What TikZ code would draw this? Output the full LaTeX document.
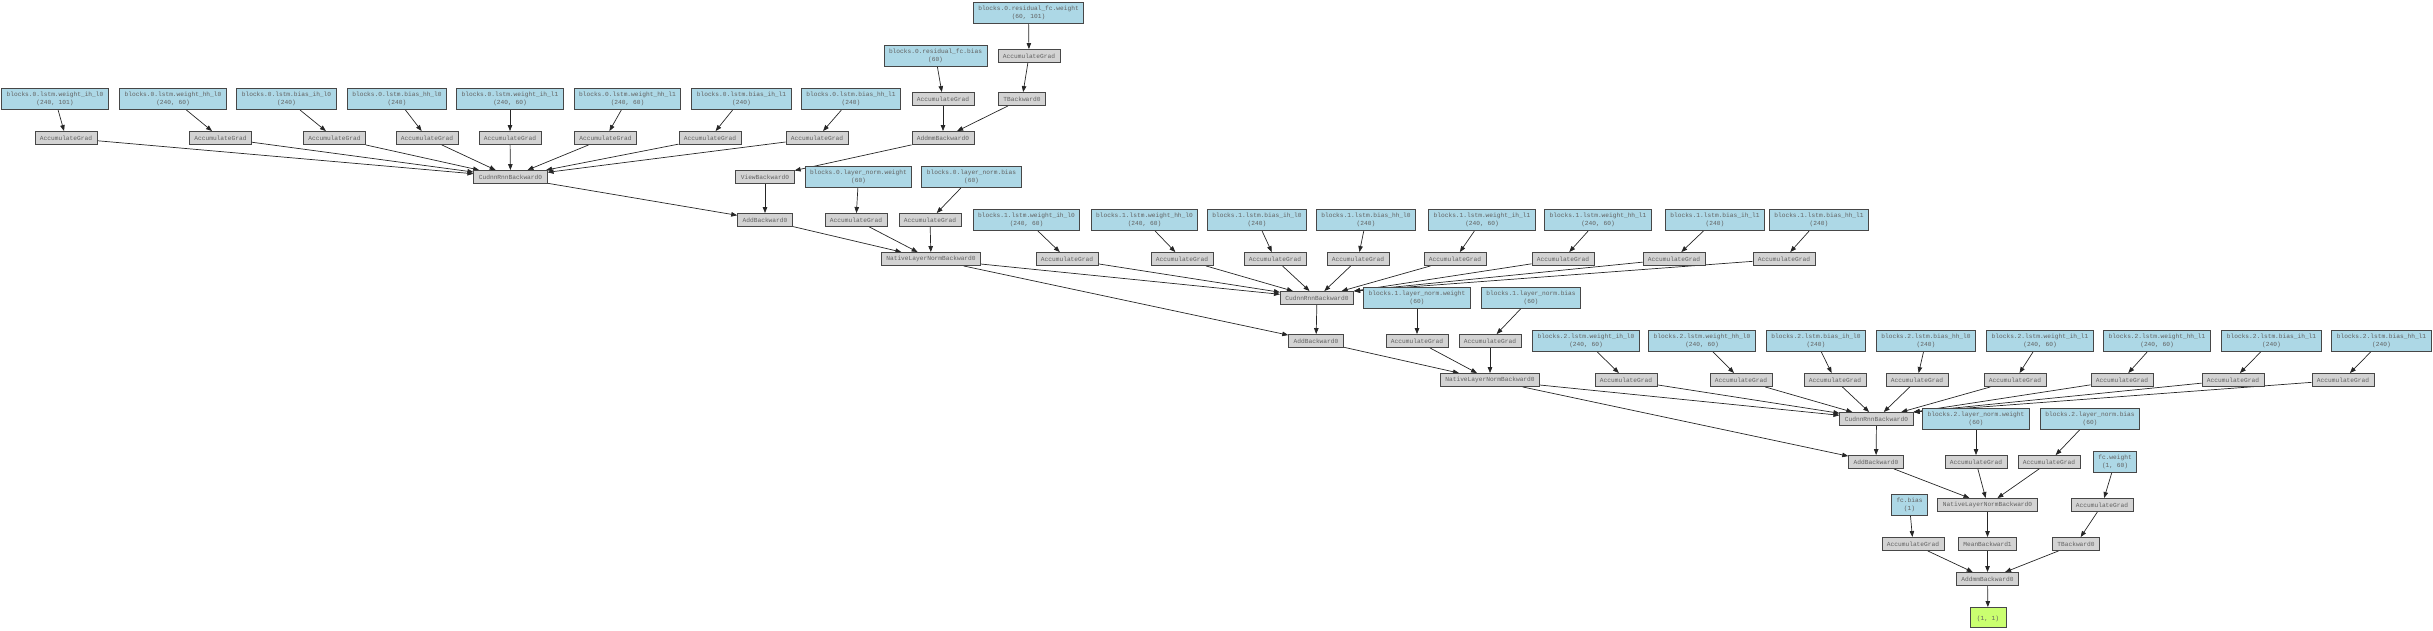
\documentclass[tikz,border=0pt]{standalone}
\usepackage{fontspec}
\newfontfamily\gvmono{Liberation Mono}
\usetikzlibrary{arrows.meta}
\pgfdeclarelayer{background}
\pgfsetlayers{background,main}
\definecolor{gvblue}{HTML}{ADD8E6}
\definecolor{gvgray}{HTML}{D3D3D3}
\definecolor{gvgreen}{HTML}{CAFF70}
\tikzset{
 gvnode/.style={draw=black!72, line width=0.9pt, font=\gvmono\fontsize{6.2}{7.6}\selectfont, text=black!62, inner xsep=5pt, inner ysep=0pt, align=center},
 gbox/.style={gvnode, fill=gvgray, minimum height=13pt},
 bbox/.style={gvnode, fill=gvblue, minimum height=21pt},
 obox/.style={gvnode, fill=gvgreen, minimum height=20pt, minimum width=36pt},
 conn/.style={draw=black!85, line width=0.7pt, -{Triangle[length=6pt,width=4.5pt]}}
}
\begin{document}
\begin{tikzpicture}[x=1pt,y=-1pt]
\useasboundingbox (0,0) rectangle (2433,630);
% ---------------- block 0 ----------------
\node[bbox] (r0w) at (1028.5,13) {blocks.0.residual\_fc.weight\\(60, 101)};
\node[gbox] (r0wa) at (1029,56) {AccumulateGrad};
\node[bbox] (r0b) at (935.5,56) {blocks.0.residual\_fc.bias\\(60)};
\node[gbox] (r0ba) at (943,99) {AccumulateGrad};
\node[gbox] (r0t) at (1022,99) {TBackward0};
\node[gbox] (r0mm) at (943,138) {AddmmBackward0};
\node[gbox] (v0) at (765,177) {ViewBackward0};

\node[bbox] (p0_1) at (55,99) {blocks.0.lstm.weight\_ih\_l0\\(240, 101)};
\node[bbox] (p0_2) at (173,99) {blocks.0.lstm.weight\_hh\_l0\\(240, 60)};
\node[bbox] (p0_3) at (286.5,99) {blocks.0.lstm.bias\_ih\_l0\\(240)};
\node[bbox] (p0_4) at (397,99) {blocks.0.lstm.bias\_hh\_l0\\(240)};
\node[bbox] (p0_5) at (510,99) {blocks.0.lstm.weight\_ih\_l1\\(240, 60)};
\node[bbox] (p0_6) at (627.5,99) {blocks.0.lstm.weight\_hh\_l1\\(240, 60)};
\node[bbox] (p0_7) at (741.5,99) {blocks.0.lstm.bias\_ih\_l1\\(240)};
\node[bbox] (p0_8) at (851,99) {blocks.0.lstm.bias\_hh\_l1\\(240)};

\node[gbox] (a0_1) at (66,138) {AccumulateGrad};
\node[gbox] (a0_2) at (220.5,138) {AccumulateGrad};
\node[gbox] (a0_3) at (334.5,138) {AccumulateGrad};
\node[gbox] (a0_4) at (427,138) {AccumulateGrad};
\node[gbox] (a0_5) at (510,138) {AccumulateGrad};
\node[gbox] (a0_6) at (605.5,138) {AccumulateGrad};
\node[gbox] (a0_7) at (710,138) {AccumulateGrad};
\node[gbox] (a0_8) at (817,138) {AccumulateGrad};

\node[gbox] (c0) at (510.5,177) {CudnnRnnBackward0};
\node[gbox] (ad0) at (765,220) {AddBackward0};
\node[bbox] (n0w) at (858.5,177) {blocks.0.layer\_norm.weight\\(60)};
\node[bbox] (n0b) at (971.5,177) {blocks.0.layer\_norm.bias\\(60)};
\node[gbox] (n0wa) at (856,220) {AccumulateGrad};
\node[gbox] (n0ba) at (930,220) {AccumulateGrad};
\node[gbox] (ln0) at (931,259) {NativeLayerNormBackward0};

% ---------------- block 1 ----------------
\node[bbox] (p1_1) at (1026.5,220) {blocks.1.lstm.weight\_ih\_l0\\(240, 60)};
\node[bbox] (p1_2) at (1144.5,220) {blocks.1.lstm.weight\_hh\_l0\\(240, 60)};
\node[bbox] (p1_3) at (1257,220) {blocks.1.lstm.bias\_ih\_l0\\(240)};
\node[bbox] (p1_4) at (1366,220) {blocks.1.lstm.bias\_hh\_l0\\(240)};
\node[bbox] (p1_5) at (1482,220) {blocks.1.lstm.weight\_ih\_l1\\(240, 60)};
\node[bbox] (p1_6) at (1598,220) {blocks.1.lstm.weight\_hh\_l1\\(240, 60)};
\node[bbox] (p1_7) at (1715,220) {blocks.1.lstm.bias\_ih\_l1\\(240)};
\node[bbox] (p1_8) at (1819,220) {blocks.1.lstm.bias\_hh\_l1\\(240)};

\node[gbox] (a1_1) at (1067,259) {AccumulateGrad};
\node[gbox] (a1_2) at (1182,259) {AccumulateGrad};
\node[gbox] (a1_3) at (1275,259) {AccumulateGrad};
\node[gbox] (a1_4) at (1358,259) {AccumulateGrad};
\node[gbox] (a1_5) at (1455,259) {AccumulateGrad};
\node[gbox] (a1_6) at (1563,259) {AccumulateGrad};
\node[gbox] (a1_7) at (1674,259) {AccumulateGrad};
\node[gbox] (a1_8) at (1784,259) {AccumulateGrad};

\node[gbox] (c1) at (1317,298) {CudnnRnnBackward0};
\node[bbox] (n1w) at (1417,298) {blocks.1.layer\_norm.weight\\(60)};
\node[bbox] (n1b) at (1531,298) {blocks.1.layer\_norm.bias\\(60)};
\node[gbox] (ad1) at (1316,341) {AddBackward0};
\node[gbox] (n1wa) at (1417,341) {AccumulateGrad};
\node[gbox] (n1ba) at (1490,341) {AccumulateGrad};
\node[gbox] (ln1) at (1490,380) {NativeLayerNormBackward0};

% ---------------- block 2 ----------------
\node[bbox] (p2_1) at (1586,341) {blocks.2.lstm.weight\_ih\_l0\\(240, 60)};
\node[bbox] (p2_2) at (1702,341) {blocks.2.lstm.weight\_hh\_l0\\(240, 60)};
\node[bbox] (p2_3) at (1816,341) {blocks.2.lstm.bias\_ih\_l0\\(240)};
\node[bbox] (p2_4) at (1926,341) {blocks.2.lstm.bias\_hh\_l0\\(240)};
\node[bbox] (p2_5) at (2040,341) {blocks.2.lstm.weight\_ih\_l1\\(240, 60)};
\node[bbox] (p2_6) at (2157,341) {blocks.2.lstm.weight\_hh\_l1\\(240, 60)};
\node[bbox] (p2_7) at (2271.5,341) {blocks.2.lstm.bias\_ih\_l1\\(240)};
\node[bbox] (p2_8) at (2381.5,341) {blocks.2.lstm.bias\_hh\_l1\\(240)};

\node[gbox] (a2_1) at (1626,380) {AccumulateGrad};
\node[gbox] (a2_2) at (1741,380) {AccumulateGrad};
\node[gbox] (a2_3) at (1835,380) {AccumulateGrad};
\node[gbox] (a2_4) at (1917,380) {AccumulateGrad};
\node[gbox] (a2_5) at (2015,380) {AccumulateGrad};
\node[gbox] (a2_6) at (2122,380) {AccumulateGrad};
\node[gbox] (a2_7) at (2233,380) {AccumulateGrad};
\node[gbox] (a2_8) at (2343,380) {AccumulateGrad};

\node[gbox] (c2) at (1876.5,419) {CudnnRnnBackward0};
\node[bbox] (n2w) at (1976,419) {blocks.2.layer\_norm.weight\\(60)};
\node[bbox] (n2b) at (2090,419) {blocks.2.layer\_norm.bias\\(60)};
\node[gbox] (ad2) at (1876,462) {AddBackward0};
\node[gbox] (n2wa) at (1976,462) {AccumulateGrad};
\node[gbox] (n2ba) at (2049,462) {AccumulateGrad};
\node[bbox] (fcw) at (2115,462) {fc.weight\\(1, 60)};
\node[gbox] (ln2) at (1987.5,505) {NativeLayerNormBackward0};
\node[bbox] (fcb) at (1909.5,505) {fc.bias\\(1)};
\node[gbox] (fcwa) at (2102,505) {AccumulateGrad};
\node[gbox] (fcba) at (1913,544) {AccumulateGrad};
\node[gbox] (mean) at (1987.5,544) {MeanBackward1};
\node[gbox] (fct) at (2076,544) {TBackward0};
\node[gbox] (mm) at (1987.5,579) {AddmmBackward0};
\node[obox] (out) at (1988,617.5) {\mbox{}\\(1, 1)};

% ---------------- connectors ----------------
\begin{pgfonlayer}{background}
\draw[conn] (r0w) -- (r0wa);
\draw[conn] (r0wa) -- (r0t);
\draw[conn] (r0b) -- (r0ba);
\draw[conn] (r0ba) -- (r0mm);
\draw[conn] (r0t) -- (r0mm);
\draw[conn] (r0mm) -- (v0);
\draw[conn] (v0) -- (ad0);
\foreach \i in {1,...,8} {
  \draw[conn] (p0_\i) -- (a0_\i);
  \draw[conn] (a0_\i) -- (c0);
  \draw[conn] (p1_\i) -- (a1_\i);
  \draw[conn] (p2_\i) -- (a2_\i);
}
\foreach \i in {1,...,5} {
  \draw[conn] (a1_\i) -- (c1);
  \draw[conn] (a2_\i) -- (c2);
}
\foreach \i in {6,7,8} {
  \draw[conn] (a1_\i) -- (c1.north east);
  \draw[conn] (a2_\i) -- (c2.north east);
}
\draw[conn] (c0) -- (ad0);
\draw[conn] (n0w) -- (n0wa);
\draw[conn] (n0b) -- (n0ba);
\draw[conn] (ad0) -- (ln0);
\draw[conn] (n0wa) -- (ln0);
\draw[conn] (n0ba) -- (ln0);

\draw[conn] (ln0) -- (c1);
\draw[conn] (ln0) -- (ad1);
\draw[conn] (c1) -- (ad1);
\draw[conn] (n1w) -- (n1wa);
\draw[conn] (n1b) -- (n1ba);
\draw[conn] (ad1) -- (ln1);
\draw[conn] (n1wa) -- (ln1);
\draw[conn] (n1ba) -- (ln1);

\draw[conn] (ln1) -- (c2);
\draw[conn] (ln1) -- (ad2);
\draw[conn] (c2) -- (ad2);
\draw[conn] (n2w) -- (n2wa);
\draw[conn] (n2b) -- (n2ba);
\draw[conn] (ad2) -- (ln2);
\draw[conn] (n2wa) -- (ln2);
\draw[conn] (n2ba) -- (ln2);

\draw[conn] (fcw) -- (fcwa);
\draw[conn] (fcwa) -- (fct);
\draw[conn] (fcb) -- (fcba);
\draw[conn] (ln2) -- (mean);
\draw[conn] (fcba) -- (mm);
\draw[conn] (mean) -- (mm);
\draw[conn] (fct) -- (mm);
\draw[conn] (mm) -- (out);
\end{pgfonlayer}
\end{tikzpicture}
\end{document}
